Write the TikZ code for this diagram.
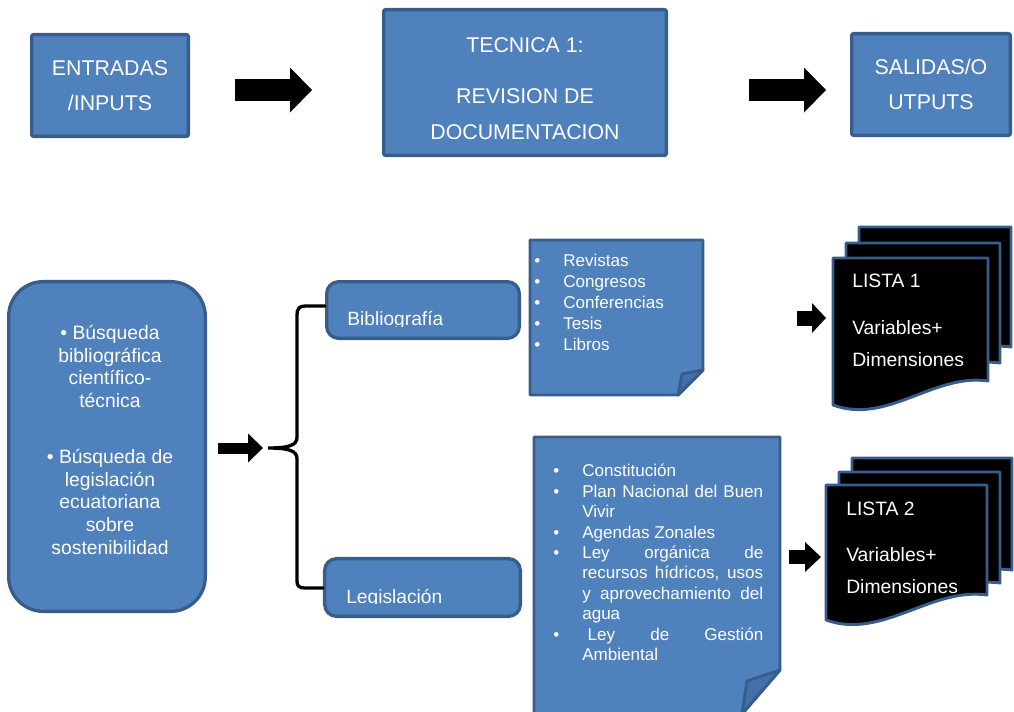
\documentclass[tikz,border=0pt]{standalone}
\usepackage{fontspec}
\setmainfont{Liberation Sans}
\usepackage{tikz}
\usetikzlibrary{arrows.meta}

\definecolor{boxblue}{HTML}{4F81BD}
\definecolor{edgeblue}{HTML}{385D8A}
\definecolor{foldblue}{HTML}{4370AA}

\newcommand{\bul}{\makebox[21.75pt][l]{\textbullet}}
\newcommand{\ind}{\hspace*{21.75pt}}
\newcommand{\jst}[1]{\makebox[135.75pt][s]{#1}}
% one page of a stack: left, top, right, bottom right, bottom left
\newcommand{\sheetpage}[5]{%
  \filldraw[sheet] (#1,#2) -- (#3,#2) -- (#3,#4)
    .. controls ({#3-0.35*(#3-#1)},{#4-8}) and ({#1+0.35*(#3-#1)},{#5+20}) .. (#1,#5) -- cycle;}

\begin{document}
\begin{tikzpicture}[
    x=0.75pt, y=-0.75pt,
    box/.style={draw=edgeblue,fill=boxblue,line width=2.5pt,rounded corners=1.5pt,
      text=white,align=center,inner sep=0pt,font=\fontsize{16}{26.25}\selectfont},
    rbox/.style={box,rounded corners=9pt},
    txt/.style={text=white,inner sep=0pt,align=left},
    note/.style={draw=edgeblue,fill=boxblue,line width=2.2pt,line join=round},
    fold/.style={note,fill=foldblue},
    sheet/.style={draw=edgeblue,fill=black,line width=2.2pt,line join=round},
    blk/.style n args={3}{line width=#1,-{Triangle[length=#3,width=#2,line width=0pt]}},
    brace/.style={line width=2.5pt,line cap=round},
  ]
  \useasboundingbox (0,0) rectangle (1014,711);

  % Top row
  \node[box,minimum width=117.5pt,minimum height=76.3pt] (ent) at (110,85.5) {ENTRADAS\\/INPUTS};
  \node[box,minimum width=212pt,minimum height=109.3pt] (tec) at (525,82.5) {};
  \node[txt,align=center,anchor=north,font=\fontsize{16}{27}\selectfont] (tectxt) at (525,37.4)
    {TECNICA 1:\\[11.25pt]REVISION DE\\DOCUMENTACION};
  \node[box,minimum width=119pt,minimum height=76.3pt] (sal) at (931,84.5) {SALIDAS/O\\UTPUTS};
  \draw[blk={16.5pt}{33.75pt}{16.5pt},shorten <=33.75pt,shorten >=52.5pt] (ent.east |- 0,90) -- (tec.west |- 0,90);
  \draw[blk={16.5pt}{33.75pt}{16.5pt},shorten <=60.75pt,shorten >=18pt] (tec.east |- 0,90) -- (sal.west |- 0,90);

  % Search box
  \node[box,rounded corners=26pt,minimum width=147.5pt,minimum height=247.3pt] (busq) at (107,446.5) {};
  \node[txt,align=center,anchor=north,font=\fontsize{14.5}{17}\selectfont] (busqtxt) at (110,325)
    {\textbullet\ Búsqueda\\bibliográfica\\científico-\\técnica\\[25pt]%
     \textbullet\ Búsqueda de\\legislación\\ecuatoriana\\sobre\\sostenibilidad};
  \coordinate (bt) at (268,448);
  \draw[blk={8.25pt}{21.75pt}{11.25pt},shorten <=8.25pt,shorten >=3.75pt] (busq.east |- bt) -- (bt);

  % Bibliografia / Legislacion
  \node[rbox,minimum width=144.5pt,minimum height=42.5pt] (bib) at (423,310) {};
  \begin{scope}
    \clip (bib.north west) rectangle (521,326);
    \node[txt,anchor=north west,font=\fontsize{14.4}{17}\selectfont] (bibtxt) at (347,311) {Bibliografía};
  \end{scope}
  \node[rbox,minimum width=146.8pt,minimum height=43.3pt] (leg) at (422.5,587.5) {};
  \begin{scope}
    \clip (leg.north west) rectangle (522,603.5);
    \node[txt,anchor=north west,font=\fontsize{14.4}{17}\selectfont] (legtxt) at (346,589) {Legislación};
  \end{scope}
  \draw[brace] ([yshift=3pt]bib.west) -- (305,306) .. controls (299,306) and (297,309) .. (297,315)
    -- (297,437) .. controls (297,445) and (290,448) .. (bt)
    .. controls (290,448) and (297,451) .. (297,459)
    -- (297,581) .. controls (297,586) and (299,588) .. (305,588) -- (leg.west |- 0,588);

  % Notes
  \filldraw[note] (530,240) -- (703,240) -- (703,370) -- (678,395) -- (530,395) -- cycle;
  \filldraw[fold] (678,395) -- (682,374) -- (703,370) -- cycle;
  \node[txt,anchor=north west,font=\fontsize{12.8}{15.75}\selectfont] (bibl) at (534,254)
    {\bul Revistas\\\bul Congresos\\\bul Conferencias\\\bul Tesis\\\bul Libros};
  \filldraw[note] (534,437) -- (780,437) -- (780,670) -- (742,714) -- (534,714) -- cycle;
  \filldraw[fold] (742,714) -- (747,681) -- (780,670) -- cycle;
  \node[txt,anchor=north west,font=\fontsize{12.8}{15.3}\selectfont] (legl) at (553,464)
    {\bul Constitución\\
     \bul\jst{Plan Nacional del Buen}\\
     \ind Vivir\\
     \bul Agendas Zonales\\
     \bul\jst{Ley orgánica de}\\
     \ind\jst{recursos hídricos, usos}\\
     \ind\jst{y aprovechamiento del}\\
     \ind agua\\
     \bul\jst{\hspace{4pt}Ley de Gestión}\\
     \ind Ambiental};
  \coordinate (n1e) at (703,318);
  \coordinate (n2e) at (780,557);

  % Lists
  \sheetpage{859}{227}{1011}{347}{371}
  \sheetpage{846}{243}{1000}{363}{387}
  \sheetpage{833}{258}{988}{381}{405}
  \node[txt,anchor=north west,font=\fontsize{14.5}{24}\selectfont] (l1txt) at (852,274)
    {LISTA 1\\[11.25pt]Variables+\\Dimensiones};
  \sheetpage{852}{458}{1012}{570}{595}
  \sheetpage{839}{472}{1000}{583}{608}
  \sheetpage{826}{485}{987}{595}{620}
  \node[txt,anchor=north west,font=\fontsize{14.5}{24}\selectfont] (l2txt) at (846,502)
    {LISTA 2\\[10.5pt]Variables+\\Dimensiones};
  \coordinate (d1w) at (833,318);
  \coordinate (d2w) at (826,557);
  \draw[blk={11.25pt}{22.5pt}{10.5pt},shorten <=70.5pt,shorten >=5.25pt] (n1e) -- (d1w);
  \draw[blk={10.5pt}{22.5pt}{12pt},shorten <=6.75pt,shorten >=3.75pt] (n2e) -- (d2w);
\end{tikzpicture}
\end{document}
